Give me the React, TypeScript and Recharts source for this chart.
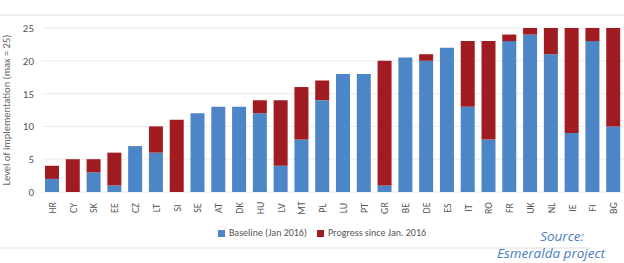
import { BarChart, Bar, XAxis, YAxis, CartesianGrid, Legend } from 'recharts'

const countries = ['HR', 'CY', 'SK', 'EE', 'CZ', 'LT', 'SI', 'SE', 'AT', 'DK', 'HU', 'LV', 'MT', 'PL', 'LU', 'PT', 'GR', 'BE', 'DE', 'ES', 'IT', 'RO', 'FR', 'UK', 'NL', 'IE', 'FI', 'BG']
const baseline = [2, 0, 3, 1, 7, 6, 0, 12, 13, 13, 12, 4, 8, 14, 18, 18, 1, 20.5, 20, 22, 13, 8, 23, 24, 21, 9, 23, 10]
const progress = [2, 5, 2, 5, 0, 4, 11, 0, 0, 0, 2, 10, 8, 3, 0, 0, 19, 0, 1, 0, 10, 15, 1, 1, 4, 16, 2, 15]
const yTicks = [0, 5, 10, 15, 20, 25]

const data = countries.map((c, i) => ({ country: c, baseline: baseline[i], progress: progress[i] }))

const BLUE = '#4d86c6'
const RED = '#a11c20'

function RotatedTick({ x, y, payload }: any) {
  return (
    <text
      transform={`translate(${x},${y + 8}) rotate(-90)`}
      textAnchor="middle"
      dominantBaseline="central"
      fontSize={10}
      fill="#555"
    >
      {payload.value}
    </text>
  )
}

export default function App() {
  return (
    <div style={{ position: 'absolute', left: 0, top: 0, width: 624, height: 263, background: '#fff', fontFamily: 'Calibri, "Liberation Sans", Arial, sans-serif', overflow: 'hidden' }}>
      <div style={{ position: 'absolute', left: 0, top: 14, width: 624, height: 2, background: '#eeeeee' }} />
      <div style={{ position: 'absolute', left: 0, top: 247, width: 590, height: 2, background: '#eeeeee' }} />
      <BarChart
        width={624}
        height={263}
        data={data}
        barSize={14}
        margin={{ top: 28, right: 0, left: 10, bottom: 28 }}
      >
        <CartesianGrid stroke="#ececec" vertical={false} />
        <XAxis
          dataKey="country"
          interval={0}
          axisLine={false}
          tickLine={false}
          tick={<RotatedTick />}
        />
        <YAxis
          domain={[0, 25]}
          ticks={yTicks}
          axisLine={false}
          tickLine={false}
          width={32}
          tick={{ fill: '#555', fontSize: 11 }}
          label={{
            value: 'Level of implementation (max = 25)',
            angle: -90,
            position: 'insideLeft',
            offset: -4,
            style: { textAnchor: 'middle', fontSize: 10.5, fill: '#666' },
          }}
        />
        <Legend
          verticalAlign="bottom"
          align="center"
          iconType="square"
          iconSize={7}
          wrapperStyle={{ fontSize: 10, color: '#555', top: 226, left: 20 }}
          formatter={(v: string) => <span style={{ color: '#555' }}>{v}</span>}
        />
        <Bar dataKey="baseline" name="Baseline (Jan 2016)" stackId="a" fill={BLUE} isAnimationActive={false} />
        <Bar dataKey="progress" name="Progress since Jan. 2016" stackId="a" fill={RED} isAnimationActive={false} />
      </BarChart>
      <div style={{ position: 'absolute', left: 520, top: 229, width: 84, textAlign: 'center', color: '#4a7cc0', fontStyle: 'italic', fontSize: 13.5, lineHeight: '15px', fontFamily: '"Open Sans", sans-serif' }}>
        Source:
      </div>
      <div style={{ position: 'absolute', left: 497, top: 246, whiteSpace: 'nowrap', color: '#4a7cc0', fontStyle: 'italic', fontSize: 13.5, lineHeight: '15px', fontFamily: '"Open Sans", sans-serif' }}>
        Esmeralda project
      </div>
    </div>
  )
}
